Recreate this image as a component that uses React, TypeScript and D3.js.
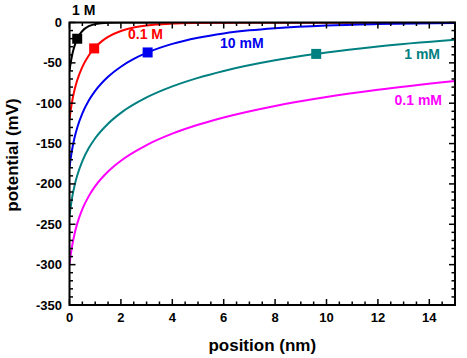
import React from 'react';
import * as d3 from 'd3';

// position (nm) and potential (mV), one list per concentration
const black1M: [number, number][] = [
  [0, -60], [0.025, -54.3], [0.05, -49.3], [0.1, -40.9], [0.15, -34.2], [0.2, -28.7],
  [0.3, -20.1], [0.4, -14.6], [0.5, -10.5], [0.75, -4.6], [1, -2.0], [1.5, -0.4],
  [2, -0.1], [3, 0], [15, 0],
];
const red01M: [number, number][] = [
  [0, -120], [0.05, -107.9], [0.1, -98.2], [0.2, -83.1], [0.3, -71.6], [0.5, -55.0],
  [0.75, -40.8], [0.96, -32.1], [1.25, -23.4], [1.5, -17.9], [2, -10.6], [2.5, -6.3],
  [3, -3.7], [4, -1.3], [5, -0.5], [6, -0.2], [8, 0], [15, 0],
];
const blue10mM: [number, number][] = [
  [0, -180], [0.05, -167.6], [0.1, -157.6], [0.2, -142.1], [0.3, -130.3], [0.5, -112.6],
  [0.75, -96.7], [1, -84.8], [1.5, -67.3], [2, -54.8], [2.5, -45.2], [3.04, -37.1],
  [4, -26.5], [5, -18.9], [6, -13.5], [7, -9.7], [8, -7.0], [10, -3.6], [12, -1.9], [15, -0.7],
];
const teal1mM: [number, number][] = [
  [0, -240], [0.05, -227.4], [0.1, -217.3], [0.2, -201.6], [0.3, -189.6], [0.5, -171.7],
  [0.75, -155.6], [1, -143.4], [1.5, -125.4], [2, -112.0], [3, -92.9], [4, -79.2],
  [5, -68.6], [6, -60.0], [8, -46.8], [9.6, -38.9], [10, -37.1], [12, -29.7], [15, -21.5],
];
const magenta01mM: [number, number][] = [
  [0, -300], [0.05, -287.4], [0.1, -277.2], [0.2, -261.3], [0.3, -249.2], [0.5, -231.2],
  [0.75, -215.1], [1, -202.8], [1.5, -184.6], [2, -171.2], [3, -151.8], [4, -137.7],
  [5, -126.7], [6, -117.7], [8, -103.4], [10, -92.4], [12, -83.4], [15, -72.4],
];

// square markers at the Debye length
const markers: [number, number, string][] = [
  [0.3, -20.1, '#000000'],
  [0.96, -32.1, '#ff0000'],
  [3.04, -37.1, '#0000ee'],
  [9.6, -38.9, '#008080'],
];

const seriesLabels = ['1 M', '0.1 M', '10 mM', '1 mM', '0.1 mM'];
const seriesColors = ['#000000', '#ff0000', '#0000ee', '#008080', '#ff00ff'];
const xTicks = [0, 2, 4, 6, 8, 10, 12, 14];
const yTicks = [0, -50, -100, -150, -200, -250, -300, -350];

const W = 467;
const H = 358;
const left = 69.5;
const right = 455;
const top = 22.5;
const bottom = 305;
const font = '"Liberation Sans", Arial, sans-serif';

export default function App() {
  const x = d3.scaleLinear().domain([0, 15]).range([left, right]);
  const y = d3.scaleLinear().domain([0, -350]).range([top, bottom]);
  const line = d3.line<[number, number]>()
    .x(d => x(d[0]))
    .y(d => y(d[1]))
    .curve(d3.curveMonotoneX);

  const series = [black1M, red01M, blue10mM, teal1mM, magenta01mM];
  // label anchor positions (px)
  const labelPos: [number, number, 'start' | 'end' | 'middle'][] = [
    [72, 15, 'start'],
    [128, 39, 'start'],
    [220, 48, 'start'],
    [440, 59, 'end'],
    [442, 105, 'end'],
  ];

  const xMinor = d3.range(0, 15.001, 0.5);
  const yMinor = d3.range(0, -350.001, -10);

  return (
    <div style={{ position: 'absolute', left: 0, top: 0 }}>
      <svg width={W} height={H} style={{ display: 'block', background: '#fff' }}>
        <defs>
          <clipPath id="plot">
            <rect x={left} y={top} width={right - left} height={bottom - top} />
          </clipPath>
        </defs>

        <g clipPath="url(#plot)">
          {series.map((s, i) => (
            <path key={i} d={line(s) || ''} fill="none" stroke={seriesColors[i]} strokeWidth={2} />
          ))}
        </g>

        {markers.map((m, i) => (
          <rect key={i} x={x(m[0]) - 5} y={y(m[1]) - 5} width={10} height={10} fill={m[2]} />
        ))}

        {/* ticks */}
        <g stroke="#000" strokeWidth={1.5}>
          {xMinor.map((v, i) => {
            const len = Math.abs(v % 2) < 1e-6 ? 6 : 3.5;
            return (
              <g key={i}>
                <line x1={x(v)} x2={x(v)} y1={bottom} y2={bottom - len} />
                <line x1={x(v)} x2={x(v)} y1={top} y2={top + len} />
              </g>
            );
          })}
          {yMinor.map((v, i) => {
            const len = Math.abs(v % 50) < 1e-6 ? 6 : 3.5;
            return (
              <g key={i}>
                <line x1={left} x2={left + len} y1={y(v)} y2={y(v)} />
                <line x1={right} x2={right - len} y1={y(v)} y2={y(v)} />
              </g>
            );
          })}
        </g>

        <rect x={left} y={top} width={right - left} height={bottom - top} fill="none" stroke="#000" strokeWidth={2} />

        <g fontFamily={font} fontWeight="bold" fontSize={13} fill="#000">
          {xTicks.map(v => (
            <text key={v} x={x(v)} y={322} textAnchor="middle">{v}</text>
          ))}
          {yTicks.map(v => (
            <text key={v} x={62} y={y(v)} dy="0.35em" textAnchor="end">{v}</text>
          ))}
        </g>

        <text x={(left + right) / 2} y={351} textAnchor="middle" fontFamily={font} fontWeight="bold" fontSize={17}>
          position (nm)
        </text>
        <text
          transform={`translate(18,155) rotate(-90)`}
          textAnchor="middle"
          fontFamily={font}
          fontWeight="bold"
          fontSize={17}
        >
          potential (mV)
        </text>

        <g fontFamily={font} fontWeight="bold" fontSize={14}>
          {seriesLabels.map((t, i) => (
            <text key={t} x={labelPos[i][0]} y={labelPos[i][1]} textAnchor={labelPos[i][2]} fill={seriesColors[i]}>
              {t}
            </text>
          ))}
        </g>
      </svg>
    </div>
  );
}
